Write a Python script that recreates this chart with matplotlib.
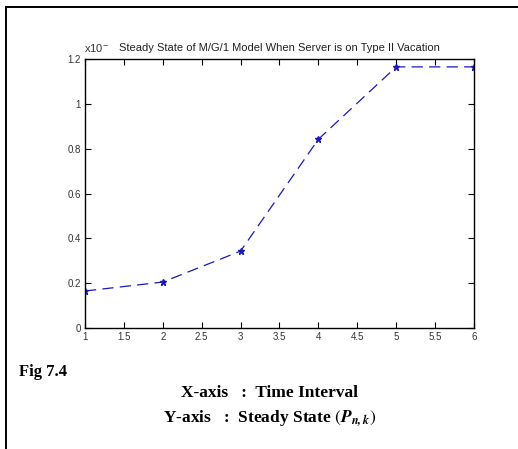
import matplotlib
matplotlib.use("Agg")
from matplotlib import pyplot as plt
from matplotlib.lines import Line2D

plt.rcParams["mathtext.fontset"] = "stix"

# data (values are x10^-3)
time_interval = [1, 2, 3, 4, 5, 6]
steady_state = [0.165, 0.205, 0.343, 0.842, 1.165, 1.165]
x_ticks = [1, 1.5, 2, 2.5, 3, 3.5, 4, 4.5, 5, 5.5, 6]
x_tick_labels = ["1", "1.5", "2", "2.5", "3", "3.5", "4", "4.5", "5", "5.5", "6"]
y_ticks = [0, 0.2, 0.4, 0.6, 0.8, 1.0, 1.2]
y_tick_labels = ["0", "0.2", "0.4", "0.6", "0.8", "1", "1.2"]

fig = plt.figure(figsize=(5.18, 4.49), dpi=100)
ax = fig.add_axes([0.164, 0.2695, 0.751, 0.599])

ax.plot(time_interval, steady_state, color="#1a1ab8", linestyle=(0, (9, 5)),
        linewidth=0.9, marker="*", markersize=5)

ax.set_xlim(1, 6)
ax.set_ylim(0, 1.2)
ax.set_xticks(x_ticks)
ax.set_xticklabels(x_tick_labels)
ax.set_yticks(y_ticks)
ax.set_yticklabels(y_tick_labels)
ax.tick_params(direction="in", length=4, width=0.8, labelsize=7,
               top=True, right=True, pad=3)
for lbl in ax.get_xticklabels() + ax.get_yticklabels():
    lbl.set_family("Liberation Sans")
    lbl.set_color("#333333")
for s in ax.spines.values():
    s.set_linewidth(1.0)

ax.set_title("Steady State of M/G/1 Model When Server is on Type II Vacation",
             fontsize=8, family="Liberation Sans", color="#222222", pad=6)
fig.text(0.163, 0.885, "x10$^{-}$", fontsize=8, family="Liberation Sans",
         color="#333333")

# frame lines of the page
fig.add_artist(Line2D([0.012, 0.012], [0.0, 0.984], color="black", linewidth=1.4))
fig.add_artist(Line2D([0.012, 1.0], [0.984, 0.984], color="black", linewidth=1.4))

fig.text(0.037, 0.162, "Fig 7.4", fontsize=12, family="Liberation Serif",
         weight="bold")
fig.text(0.52, 0.115, "X-axis   :  Time Interval", fontsize=12.5,
         family="Liberation Serif", weight="bold", ha="center")
fig.text(0.52, 0.062, "Y-axis   :  Steady State $(\\mathbfit{P}_{\\mathbfit{n,k}})$",
         fontsize=12.5, family="Liberation Serif", weight="bold", ha="center")

fig.savefig("out.png", dpi=100)
